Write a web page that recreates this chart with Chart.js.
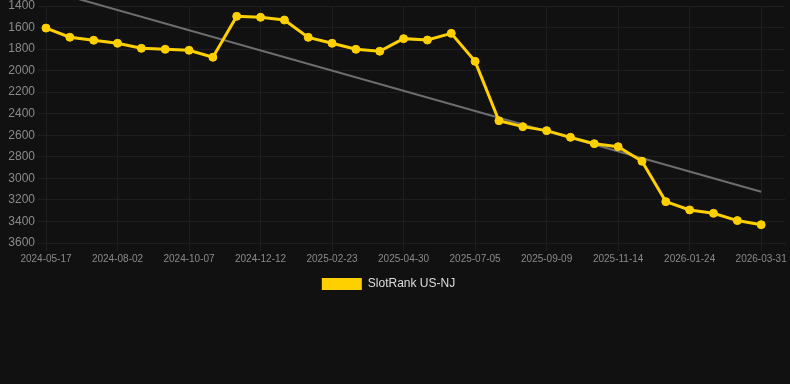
<!DOCTYPE html>
<html>
<head>
<meta charset="utf-8">
<script src="https://cdn.jsdelivr.net/npm/chart.js@4.4.1/dist/chart.umd.min.js"></script>
<style>
  html, body { margin: 0; padding: 0; background: #111111; }
  #wrap { width: 790px; height: 300px; position: relative; }
</style>
</head>
<body>
<div id="wrap"><canvas id="c"></canvas></div>
<script>
const categories = [
  '2024-05-17','2024-06-12','2024-07-07','2024-08-02','2024-08-24','2024-09-15',
  '2024-10-07','2024-10-29','2024-11-20','2024-12-12','2025-01-05','2025-01-29',
  '2025-02-23','2025-03-17','2025-04-08','2025-04-30','2025-05-22','2025-06-13',
  '2025-07-05','2025-07-27','2025-08-18','2025-09-09','2025-10-01','2025-10-23',
  '2025-11-14','2025-12-08','2025-12-31','2026-01-24','2026-02-15','2026-03-09',
  '2026-03-31','2026-04-22'
];
const rankValues = [
  1605, 1690, 1718, 1746, 1793, 1802, 1811, 1876, 1496, 1505, 1530,
  1691, 1746, 1802, 1820, 1703, 1716, 1654, 1914, 2465, 2520, 2557,
  2619, 2678, 2706, 2841, 3216, 3293, 3324, 3392, 3430
];
const trendDates = ['2024-05-17', '2026-03-31'];
const trendValues = [1250, 3125];
const yTicks = { min: 1400, max: 3600, step: 200 };

const yellow = '#FFD000';
const fontFam = 'Liberation Sans, Arial, sans-serif';

const legendShift = {
  id: 'legendShift',
  afterLayout(chart) {
    if (chart.legend) {
      chart.legend.left -= 19;
      chart.legend.right -= 2;
    }
  }
};

new Chart(document.getElementById('c'), {
  type: 'line',
  data: {
    labels: categories,
    datasets: [
      {
        label: 'SlotRank US-NJ',
        data: rankValues,
        borderColor: yellow,
        backgroundColor: yellow,
        borderWidth: 3,
        pointRadius: 4,
        pointHoverRadius: 4,
        pointBorderWidth: 1,
        pointBackgroundColor: yellow,
        pointBorderColor: yellow,
        tension: 0,
        order: 0
      },
      {
        label: 'trend',
        data: trendDates.map((d, i) => ({ x: d, y: trendValues[i] })),
        borderColor: '#6e6e6e',
        backgroundColor: '#6e6e6e',
        borderWidth: 2,
        pointRadius: 0,
        clip: false,
        order: 1
      }
    ]
  },
  plugins: [legendShift],
  options: {
    responsive: true,
    maintainAspectRatio: false,
    animation: false,
    layout: { padding: { left: 8, right: 0, top: 0, bottom: 0 } },
    plugins: {
      legend: {
        position: 'bottom',
        labels: {
          boxWidth: 40,
          boxHeight: 12,
          color: '#dddddd',
          font: { family: fontFam, size: 12 },
          generateLabels(chart) {
            return Chart.defaults.plugins.legend.labels.generateLabels(chart)
              .filter(it => it.text !== 'trend')
              .map(it => Object.assign(it, { lineWidth: 0 }));
          }
        }
      },
      tooltip: { enabled: false }
    },
    scales: {
      x: {
        grid: { color: '#1e1e1e' },
        border: { color: '#1e1e1e' },
        afterFit(scale) { scale.paddingRight = 4; scale.height = 25; },
        ticks: {
          color: '#8a8a8a',
          maxRotation: 0,
          autoSkip: true,
          maxTicksLimit: 11,
          padding: 2,
          font: { family: fontFam, size: 10 }
        }
      },
      y: {
        reverse: true,
        min: yTicks.min,
        max: yTicks.max,
        grid: { color: '#1e1e1e' },
        border: { color: '#1e1e1e' },
        afterFit(scale) { scale.width = 38; scale.paddingTop = 6; },
        ticks: {
          stepSize: yTicks.step,
          color: '#8a8a8a',
          font: { family: fontFam, size: 12 },
          callback: (v) => String(v)
        }
      }
    }
  }
});
</script>
</body>
</html>
